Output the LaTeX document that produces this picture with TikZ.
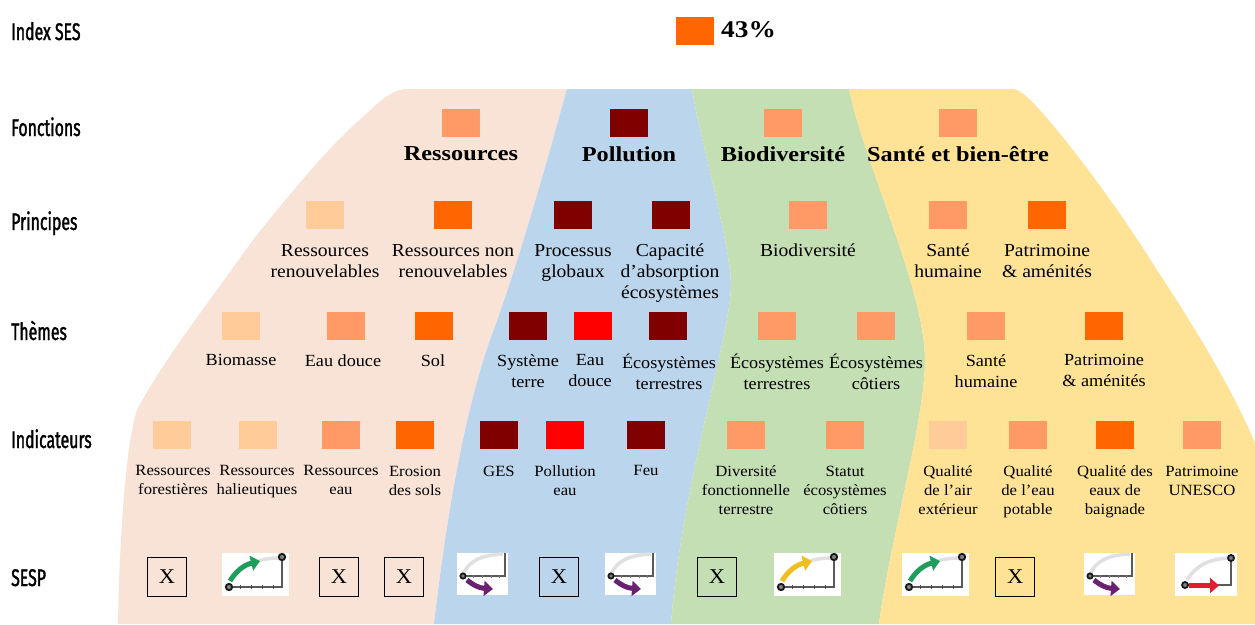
\documentclass[tikz,border=0pt]{standalone}
\usepackage{fontspec}
\setmainfont[FakeStretch=1.07]{Liberation Serif}
\newfontfamily\hd[FakeStretch=1.14]{Liberation Serif}
\newfontfamily\lab[FakeStretch=0.66,FakeBold=1.4]{Fira Sans}
\usetikzlibrary{arrows.meta}
\definecolor{cA}{HTML}{FFCC99}
\definecolor{cB}{HTML}{FF9966}
\definecolor{cC}{HTML}{FF6600}
\definecolor{cD}{HTML}{800000}
\definecolor{cE}{HTML}{FF0000}
\definecolor{rA}{HTML}{F9E3D6}
\definecolor{rB}{HTML}{BBD5EC}
\definecolor{rC}{HTML}{C5DFB4}
\definecolor{rD}{HTML}{FEE396}
\definecolor{gA}{HTML}{1E9E5A}
\definecolor{gP}{HTML}{6B2070}
\definecolor{gY}{HTML}{F0BE1E}
\definecolor{gR}{HTML}{DD2030}
\tikzset{
  sq/.style={fill=#1,minimum width=38pt,minimum height=28pt,inner sep=0pt,anchor=north west},
  rowlab/.style={anchor=base west,inner sep=0pt,font=\lab\fontsize{24}{24}\selectfont,text=black},
  big/.style={align=center,inner sep=0pt,font=\fontsize{18.3}{21}\selectfont},
  mid/.style={align=center,inner sep=0pt,font=\fontsize{17}{21}\selectfont},
  small/.style={align=center,inner sep=0pt,font=\fontsize{15.6}{19}\selectfont},
  head/.style={inner sep=0pt,font=\hd\bfseries\fontsize{21.3}{24}\selectfont},
  xbox/.style={draw=black,line width=1.2pt,minimum size=39pt,inner sep=0pt,font=\fontsize{21}{21}\selectfont,anchor=north west},
  axisl/.style={draw=black!65,line width=1.2pt},
  ghost/.style={draw=black!12,line width=3.5pt},
  dot/.style={draw=black!90,fill=black!50,line width=1.8pt},
  garrow/.style={draw=#1,line width=5pt,-{Triangle[length=9pt,width=15pt]}},
}
\newcommand{\iconup}[3]{%
\begin{scope}[shift={(#1,#2)}]
\fill[white] (0,0) rectangle (67,43);
\draw[ghost] (36,8) .. controls (42,6) and (50,5) .. (58,5);
\draw[axisl] (7,34) -- (60,34) -- (60,4);
\foreach \t in {18,29,40,51}{\draw[black!70,line width=1pt] (\t,32) -- (\t,36);}
\draw[garrow=#3] (8,28) .. controls (14,18) and (22,12) .. (38,8);
\draw[dot] (7,34) circle (3.2pt);
\draw[dot] (60,4) circle (3.2pt);
\end{scope}}
\newcommand{\icondown}[2]{%
\begin{scope}[shift={(#1,#2)}]
\fill[white] (0,0) rectangle (51,42);
\draw[ghost] (6,21) .. controls (12,8) and (24,2) .. (46,1);
\draw[axisl] (6,23) -- (48,23) -- (48,0);
\foreach \t in {16,25,34,42}{\draw[gP!50!black!60,line width=1pt] (\t,22) -- (\t,25);}
\draw[garrow=gP] (10,27) .. controls (16,32) and (22,35) .. (36,36);
\draw[dot] (6,23) circle (2.6pt);
\end{scope}}
\newcommand{\iconflat}[2]{%
\begin{scope}[shift={(#1,#2)}]
\fill[white] (0,0) rectangle (62,43);
\draw[ghost] (12,27) .. controls (20,14) and (32,6) .. (54,5);
\draw[axisl] (10,32) -- (56,32) -- (56,5);
\draw[garrow=gR] (14,32.5) -- (44,32.5);
\draw[dot] (10,32) circle (3pt);
\draw[dot] (56,5) circle (3pt);
\end{scope}}
\begin{document}
\begin{tikzpicture}[x=1pt,y=-1pt]
\useasboundingbox (0,0) rectangle (1255,624);
% regions
\fill[rA] (118,624) .. controls (119,560) and (124,450) .. (137,410)
  .. controls (150,385) and (170,355) .. (193,323) -- (253,240)
  .. controls (275,212) and (295,188) .. (317,163) .. controls (335,143) and (350,128) .. (367,113)
  .. controls (380,101) and (392,90) .. (405,89)
  -- (567,89) .. controls (550,150) and (520,260) .. (490,340) .. controls (462,420) and (445,530) .. (434,624) -- cycle;
\fill[rB] (567,89) -- (692,89) .. controls (700,140) and (730,240) .. (731,285)
  .. controls (730,340) and (682,480) .. (671,624) -- (434,624)
  .. controls (445,530) and (462,420) .. (490,340) .. controls (520,260) and (550,150) .. (567,89) -- cycle;
\fill[rC] (692,89) -- (849,89) .. controls (865,165) and (925,290) .. (925,360)
  .. controls (925,420) and (890,540) .. (879,624) -- (671,624)
  .. controls (682,480) and (730,340) .. (731,285) .. controls (730,240) and (700,140) .. (692,89) -- cycle;
\fill[rD] (849,89) -- (1013,89) .. controls (1021,90) and (1028,98) .. (1035,105)
  .. controls (1055,125) and (1110,195) .. (1155,267) .. controls (1200,335) and (1235,395) .. (1255,443)
  -- (1255,624) -- (879,624)
  .. controls (890,540) and (925,420) .. (925,360) .. controls (925,290) and (865,165) .. (849,89) -- cycle;
% row labels
\node[rowlab] (l1) at (11,40) {Index SES};
\node[rowlab] (l2) at (11,136) {Fonctions};
\node[rowlab] (l3) at (11,230) {Principes};
\node[rowlab] (l4) at (11,340) {Thèmes};
\node[rowlab] (l5) at (11,448) {Indicateurs};
\node[rowlab] (l6) at (11,586) {SESP};
% index
\node[sq=cC] (s0) at (676,17) {};
\node[inner sep=0pt,anchor=west,font=\hd\bfseries\fontsize{24}{24}\selectfont] (t0) at (721,30) {43\%};
% fonctions
\node[sq=cB] (f1) at (442,109) {};
\node[sq=cD] (f2) at (610,109) {};
\node[sq=cB] (f3) at (764,109) {};
\node[sq=cB] (f4) at (939,109) {};
\node[head] (ft1) at (461,154) {Ressources};
\node[head] (ft2) at (629,154) {Pollution};
\node[head] (ft3) at (783,154) {Biodiversité};
\node[head] (ft4) at (958,154) {Santé et bien-être};
% principes
\node[sq=cA] (p1) at (306,201) {};
\node[sq=cC] (p2) at (434,201) {};
\node[sq=cD] (p3) at (554,201) {};
\node[sq=cD] (p4) at (652,201) {};
\node[sq=cB] (p5) at (789,201) {};
\node[sq=cB] (p6) at (929,201) {};
\node[sq=cC] (p7) at (1028,201) {};
\node[big,anchor=north] (pt1) at (325,244) {Ressources\\renouvelables};
\node[big,anchor=north] (pt2) at (453,244) {Ressources non\\renouvelables};
\node[big,anchor=north] (pt3) at (573,244) {Processus\\globaux};
\node[big,anchor=north] (pt4) at (670,244) {Capacité\\d’absorption\\écosystèmes};
\node[big,anchor=north] (pt5) at (808,244) {Biodiversité};
\node[big,anchor=north] (pt6) at (948,244) {Santé\\humaine};
\node[big,anchor=north] (pt7) at (1047,244) {Patrimoine\\\& aménités};
% themes
\node[sq=cA] (h1) at (222,312) {};
\node[sq=cB] (h2) at (327,312) {};
\node[sq=cC] (h3) at (415,312) {};
\node[sq=cD] (h4) at (509,312) {};
\node[sq=cE] (h5) at (574,312) {};
\node[sq=cD] (h6) at (649,312) {};
\node[sq=cB] (h7) at (758,312) {};
\node[sq=cB] (h8) at (857,312) {};
\node[sq=cB] (h9) at (967,312) {};
\node[sq=cC] (h10) at (1085,312) {};
\node[mid,anchor=north] (ht1) at (241,354) {Biomasse};
\node[mid,anchor=north] (ht2) at (343,354) {Eau douce};
\node[mid,anchor=north] (ht3) at (433,354) {Sol};
\node[mid,anchor=north] (ht4) at (528,354) {Système\\terre};
\node[mid,anchor=north] (ht5) at (590,354) {Eau\\douce};
\node[mid,anchor=north] (ht6) at (669,354) {Écosystèmes\\terrestres};
\node[mid,anchor=north] (ht7) at (777,354) {Écosystèmes\\terrestres};
\node[mid,anchor=north] (ht8) at (876,354) {Écosystèmes\\côtiers};
\node[mid,anchor=north] (ht9) at (986,354) {Santé\\humaine};
\node[mid,anchor=north] (ht10) at (1104,354) {Patrimoine\\\& aménités};
% indicateurs
\node[sq=cA] (i1) at (153,421) {};
\node[sq=cA] (i2) at (239,421) {};
\node[sq=cB] (i3) at (322,421) {};
\node[sq=cC] (i4) at (396,421) {};
\node[sq=cD] (i5) at (480,421) {};
\node[sq=cE] (i6) at (546,421) {};
\node[sq=cD] (i7) at (627,421) {};
\node[sq=cB] (i8) at (727,421) {};
\node[sq=cB] (i9) at (826,421) {};
\node[sq=cA] (i10) at (929,421) {};
\node[sq=cB] (i11) at (1009,421) {};
\node[sq=cC] (i12) at (1096,421) {};
\node[sq=cB] (i13) at (1183,421) {};
\node[small,anchor=north] (it1) at (173,465.5) {Ressources\\forestières};
\node[small,anchor=north] (it2) at (257,465.5) {Ressources\\halieutiques};
\node[small,anchor=north] (it3) at (341,465.5) {Ressources\\eau};
\node[small,anchor=north] (it4) at (415,465.5) {Erosion\\des sols};
\node[small,anchor=north] (it5) at (499,465.5) {GES};
\node[small,anchor=north] (it6) at (565,465.5) {Pollution\\eau};
\node[small,anchor=north] (it7) at (646,465.5) {Feu};
\node[small,anchor=north] (it8) at (746,465.5) {Diversité\\fonctionnelle\\terrestre};
\node[small,anchor=north] (it9) at (845,465.5) {Statut\\écosystèmes\\côtiers};
\node[small,anchor=north] (it10) at (948,465.5) {Qualité\\de l’air\\extérieur};
\node[small,anchor=north] (it11) at (1028,465.5) {Qualité\\de l’eau\\potable};
\node[small,anchor=north] (it12) at (1115,465.5) {Qualité des\\eaux de\\baignade};
\node[small,anchor=north] (it13) at (1202,465.5) {Patrimoine\\UNESCO};
% SESP
\node[xbox] (x1) at (147,557) {X};
\node[xbox] (x2) at (319,557) {X};
\node[xbox] (x3) at (384,557) {X};
\node[xbox] (x4) at (539,557) {X};
\node[xbox] (x5) at (697,557) {X};
\node[xbox] (x6) at (995,557) {X};
\iconup{222}{553}{gA}
\icondown{457}{553}
\icondown{605}{553}
\iconup{774}{553}{gY}
\iconup{902}{553}{gA}
\icondown{1084}{553}
\iconflat{1175}{553}
\end{tikzpicture}
\end{document}
